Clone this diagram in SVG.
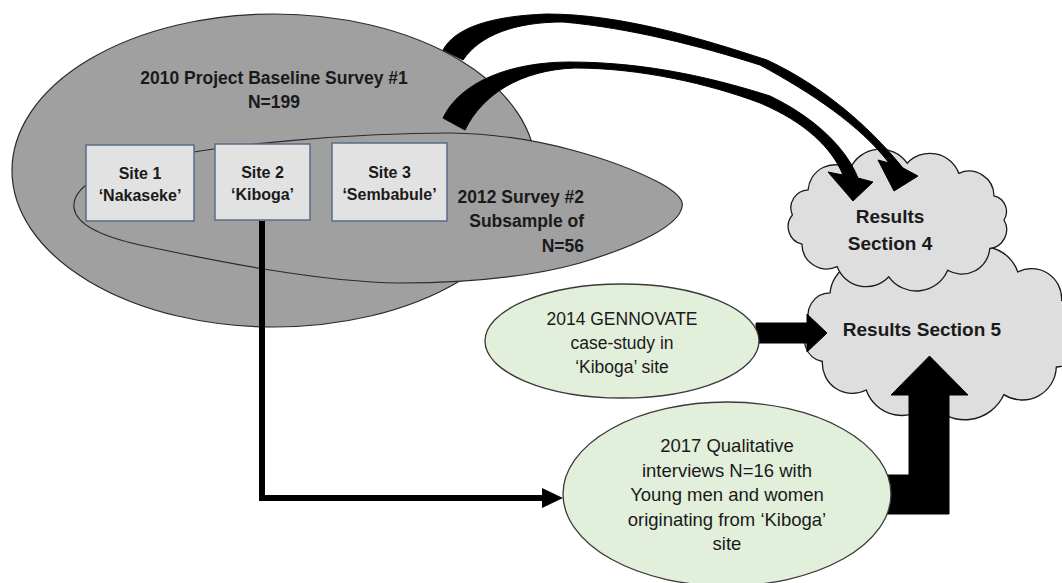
<svg xmlns="http://www.w3.org/2000/svg" width="1062" height="583" viewBox="0 0 1062 583">
<defs>
<style>
.gray{fill:#a0a0a0;stroke:#2a2a2a;stroke-width:1.2}
.box{fill:#e2e2e2;stroke:#5b6a8a;stroke-width:1.5}
.cloud{fill:#dedede;stroke:#1a1a1a;stroke-width:1.3}
.green{fill:#e2efda;stroke:#3a3a3a;stroke-width:1.3}
.blk{fill:#000;stroke:#000;stroke-width:1}
text{font-family:"Liberation Sans",Arial,sans-serif;fill:#1a1a1a}
.b{font-weight:bold}
</style>
<marker id="ah" viewBox="0 0 22 22" refX="0" refY="11" markerWidth="22" markerHeight="22" markerUnits="userSpaceOnUse" orient="auto">
<path d="M0 1 L21 11 L0 21 Z" fill="#000"/>
</marker>
</defs>
<rect width="1062" height="583" fill="#fff"/>

<g id="cloud5">
<path class="cloud" d="M1074 331 A23 23 0 0 1 1056.3 367 A34 34 0 0 1 1003.9 394.6 A43 43 0 0 1 930.5 402.7 A38 38 0 0 1 866.2 390 A30 30 0 0 1 822.4 361.5 A22 22 0 0 1 810.5 324.7 A22 22 0 0 1 830.1 292.8 A34 34 0 0 1 882.1 266.8 A42 42 0 0 1 953.5 259.3 A38 38 0 0 1 1017.8 272 A30 30 0 0 1 1061.6 300.5 A19 19 0 0 1 1074 331 Z"/>
<text class="b" x="922" y="336" font-size="19" text-anchor="middle">Results Section 5</text>
</g>

<g id="cloud4">
<path class="cloud" d="M1004 220 A19 19 0 0 1 989.8 248.5 A28 28 0 0 1 947.7 270.3 A34 34 0 0 1 888.8 276.8 A31 31 0 0 1 837.2 266.7 A25 25 0 0 1 801.9 244.1 A18 18 0 0 1 792.4 215 A18 18 0 0 1 808.1 189.8 A27 27 0 0 1 849.9 169.2 A33 33 0 0 1 907.2 163.2 A31 31 0 0 1 958.8 173.3 A25 25 0 0 1 994 195.9 A16 16 0 0 1 1004 220 Z"/>
<text class="b" x="890" y="223" font-size="19" text-anchor="middle">Results</text>
<text class="b" x="890" y="250" font-size="19" text-anchor="middle">Section 4</text>
</g>

<g id="survey1">
<ellipse class="gray" cx="274" cy="170.5" rx="262" ry="156.5"/>
<text class="b" x="274" y="84" font-size="17.5" text-anchor="middle">2010 Project Baseline Survey #1</text>
<text class="b" x="274" y="108" font-size="17.5" text-anchor="middle">N=199</text>
</g>

<g id="survey2">
<path class="gray" d="M74 208 C72 190 95 172 150 160 C230 143 360 133 450 133 C540 134 620 162 660 183 C678 193 684 201 682 207 C679 225 640 245 580 263 C530 277 470 283 400 283 C320 282 220 262 140 245 C95 235 76 222 74 208 Z"/>
<text class="b" x="584" y="203" font-size="17.5" text-anchor="end">2012 Survey #2</text>
<text class="b" x="584" y="227" font-size="17.5" text-anchor="end">Subsample of</text>
<text class="b" x="584" y="252" font-size="17.5" text-anchor="end">N=56</text>
</g>

<g id="site1">
<rect class="box" x="86" y="145" width="108" height="76"/>
<text class="b" x="140" y="179" font-size="16" text-anchor="middle">Site 1</text>
<text class="b" x="140" y="201" font-size="16" text-anchor="middle">‘Nakaseke’</text>
</g>
<g id="site2">
<rect class="box" x="215" y="144" width="95" height="76"/>
<text class="b" x="262.5" y="178" font-size="16" text-anchor="middle">Site 2</text>
<text class="b" x="262.5" y="200" font-size="16" text-anchor="middle">‘Kiboga’</text>
</g>
<g id="site3">
<rect class="box" x="332" y="143" width="115" height="78"/>
<text class="b" x="389.5" y="178" font-size="16" text-anchor="middle">Site 3</text>
<text class="b" x="389.5" y="200" font-size="16" text-anchor="middle">‘Sembabule’</text>
</g>

<g id="connectors">
<path class="blk" d="M443 50 C455 28 490 16 547 14 C620 14 700 38 767 60 C810 80 860 115 903 168 L918 176 L894 191 L878 160 L889 163 C860 125 810 92 760 65 C700 46 630 28 563 22 C515 22 480 35 463 60 Z"/>
<path class="blk" d="M443 118 C460 82 510 62 570 62 C650 62 720 80 770 96 C810 115 845 145 858 178 L873 182 L853 201 L828 172 L843 175 C832 148 805 122 760 103 C710 84 640 68 575 68 C520 70 482 95 465 130 Z"/>
<polyline points="262,221 262,498 542,498" fill="none" stroke="#000" stroke-width="6" stroke-linejoin="miter" marker-end="url(#ah)"/>
<path class="blk" d="M756 323 L807 323 L807 314 L827 333 L807 352 L807 343 L756 343 Z"/>
<path class="blk" d="M886 475 L909 475 L909 395 L891 395 L929.5 356 L968 395 L949 395 L949 514 L886 514 Z"/>
</g>

<g id="gennovate">
<ellipse class="green" cx="622" cy="341" rx="137" ry="57"/>
<text x="622" y="325" font-size="17.5" text-anchor="middle">2014 GENNOVATE</text>
<text x="622" y="349" font-size="17.5" text-anchor="middle">case-study in</text>
<text x="622" y="373" font-size="17.5" text-anchor="middle">‘Kiboga’ site</text>
</g>

<g id="qualitative">
<ellipse class="green" cx="727" cy="494" rx="164" ry="92"/>
<text x="727" y="452" font-size="18.5" text-anchor="middle">2017 Qualitative</text>
<text x="727" y="476.5" font-size="18.5" text-anchor="middle">interviews N=16 with</text>
<text x="727" y="501" font-size="18.5" text-anchor="middle">Young men and women</text>
<text x="727" y="525.5" font-size="18.5" text-anchor="middle">originating from ‘Kiboga’</text>
<text x="727" y="550" font-size="18.5" text-anchor="middle">site</text>
</g>
</svg>
